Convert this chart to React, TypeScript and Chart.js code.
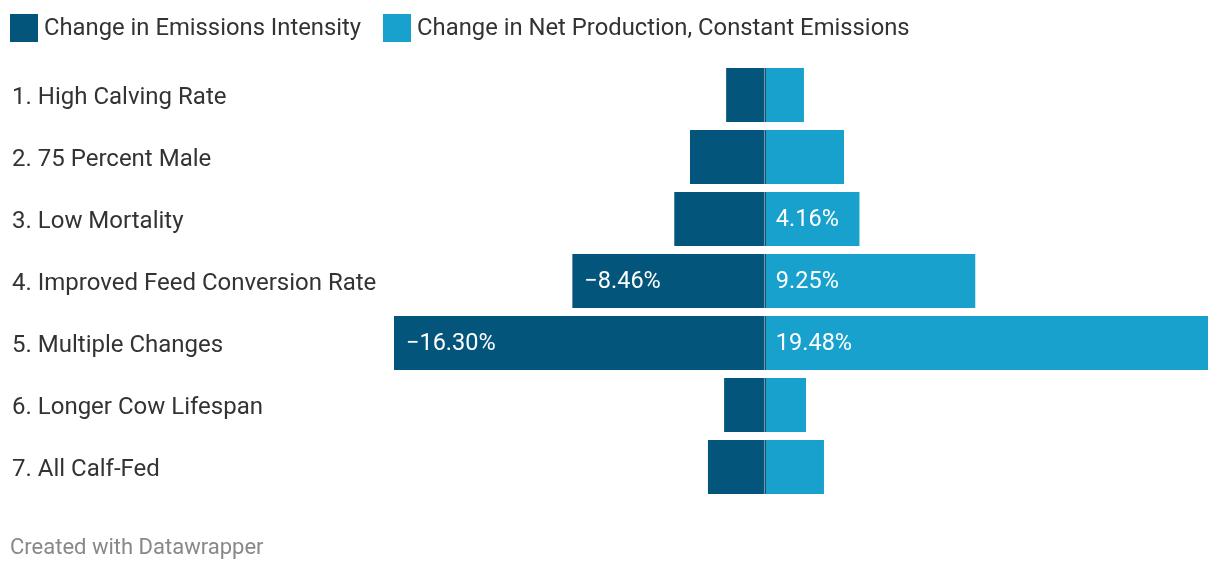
import React, { useEffect, useRef } from 'react';
import { Chart, registerables } from 'chart.js';

Chart.register(...registerables);

const categories = [
  '1. High Calving Rate',
  '2. 75 Percent Male',
  '3. Low Mortality',
  '4. Improved Feed Conversion Rate',
  '5. Multiple Changes',
  '6. Longer Cow Lifespan',
  '7. All Calf-Fed',
];
const intensityChange = [-1.7, -3.29, -3.98, -8.46, -16.3, -1.79, -2.5];
const productionChange = [1.72, 3.48, 4.16, 9.25, 19.48, 1.81, 2.6];
const intensityLabelShown = [false, false, false, true, true, false, false];
const productionLabelShown = [false, false, true, true, true, false, false];
const seriesNames = ['Change in Emissions Intensity', 'Change in Net Production, Constant Emissions'];
const seriesColors = ['#03557b', '#19a1cd'];
const axisMin = -16.3;
const axisMax = 19.48;
const footerText = 'Created with Datawrapper';

const FONT = 'Roboto, "Noto Sans", sans-serif';

const fmt = (v: number) => (v < 0 ? '\u2212' : '') + Math.abs(v).toFixed(2) + '%';

const valueLabels = {
  id: 'valueLabels',
  afterDatasetsDraw(chart: any) {
    const ctx = chart.ctx;
    const shown = [intensityLabelShown, productionLabelShown];
    ctx.save();
    ctx.font = `23.5px ${FONT}`;
    ctx.fillStyle = '#ffffff';
    ctx.textBaseline = 'middle';
    ctx.textAlign = 'left';
    chart.data.datasets.forEach((ds: any, di: number) => {
      const meta = chart.getDatasetMeta(di);
      meta.data.forEach((bar: any, i: number) => {
        if (!shown[di][i]) return;
        const v = ds.data[i];
        const x = v < 0 ? bar.x + 12 : bar.base + 11;
        ctx.fillText(fmt(v), x, bar.y + 1);
      });
    });
    const x0 = Math.round(chart.scales.x.getPixelForValue(0));
    const meta0 = chart.getDatasetMeta(0);
    meta0.data.forEach((bar: any) => {
      const top = bar.y - bar.height / 2;
      ctx.fillStyle = '#6f98b2';
      ctx.fillRect(x0 - 1, top, 1, bar.height);
      ctx.fillStyle = '#1d4f6e';
      ctx.fillRect(x0, top, 1, bar.height);
    });
    ctx.restore();
  },
};

export default function App() {
  const ref = useRef<HTMLCanvasElement | null>(null);

  useEffect(() => {
    if (!ref.current) return;
    const chart = new Chart(ref.current, {
      type: 'bar',
      data: {
        labels: categories,
        datasets: [
          {
            label: seriesNames[0],
            data: intensityChange,
            backgroundColor: seriesColors[0],
            borderWidth: 0,
            barPercentage: 54 / 62,
            categoryPercentage: 1,
          },
          {
            label: seriesNames[1],
            data: productionChange,
            backgroundColor: seriesColors[1],
            borderWidth: 0,
            barPercentage: 54 / 62,
            categoryPercentage: 1,
          },
        ],
      },
      options: {
        indexAxis: 'y',
        responsive: false,
        animation: false,
        layout: { padding: { left: 12, right: 12, top: 64, bottom: 74 } },
        plugins: {
          legend: { display: false },
          tooltip: { enabled: false },
        },
        scales: {
          x: {
            stacked: true,
            display: false,
            min: axisMin,
            max: axisMax,
          },
          y: {
            stacked: true,
            grid: { display: false },
            border: { display: false },
            ticks: {
              crossAlign: 'far',
              padding: 0,
              labelOffset: 3,
              color: '#333333',
              font: { family: FONT, size: 24 },
            },
            afterFit: (s: any) => {
              s.width = 382;
            },
          },
        },
      },
      plugins: [valueLabels],
    } as any);
    return () => chart.destroy();
  }, []);

  return (
    <div
      style={{
        position: 'fixed',
        left: 0,
        top: 0,
        width: 1220,
        height: 572,
        background: '#ffffff',
        fontFamily: FONT,
      }}
    >
      <canvas ref={ref} width={1220} height={572} style={{ position: 'absolute', left: 0, top: 0, width: 1220, height: 572 }} />
      <div style={{ position: 'absolute', left: 10, top: 14, display: 'flex', alignItems: 'center', height: 28 }}>
        {seriesNames.map((n, i) => (
          <div key={n} style={{ display: 'flex', alignItems: 'center', marginRight: 22 }}>
            <span style={{ display: 'inline-block', width: 28, height: 28, background: seriesColors[i], marginRight: 6 }} />
            <span style={{ fontSize: 23.8, lineHeight: '28px', color: '#333333', whiteSpace: 'nowrap', position: 'relative', top: -1 }}>{n}</span>
          </div>
        ))}
      </div>
      <div style={{ position: 'absolute', left: 10, top: 533, fontSize: 22, lineHeight: '28px', color: '#888888', whiteSpace: 'nowrap' }}>
        {footerText}
      </div>
    </div>
  );
}
